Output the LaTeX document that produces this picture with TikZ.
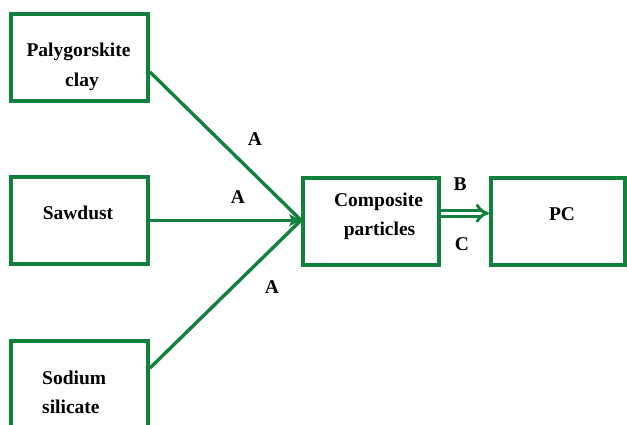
\documentclass[tikz,border=0pt]{standalone}
\usepackage{fontspec}
\setmainfont{Liberation Serif}
\usetikzlibrary{arrows.meta}
\definecolor{flowgreen}{RGB}{20,128,62}
\tikzset{
  box/.style={draw=flowgreen, line width=4pt, minimum width=137pt, minimum height=87pt, inner sep=0pt},
  lbl/.style={font=\fontsize{19.5}{23}\selectfont\bfseries, inner sep=0pt, anchor=base},
  link/.style={draw=flowgreen, line width=3.4pt},
}
\begin{document}
\begin{tikzpicture}[x=1pt, y=-1pt]
\useasboundingbox (0,0) rectangle (627,425);
% boxes
\node[box] (pal) at (79.5,57.75) {};
\node[box] (saw) at (79.5,220.75) {};
\node[box] (sod) at (79.5,384.5) {};
\node[box, minimum width=136pt] (comp) at (371,221.25) {};
\node[box, minimum width=134pt] (pc) at (558,221.25) {};
% box texts
\node[lbl] (t1) at (78.5,57) {Palygorskite};
\node[lbl] (t2) at (82,87) {clay};
\node[lbl] (t3) at (78,219) {Sawdust};
\node[lbl, anchor=base west] (t4) at (42,384) {Sodium};
\node[lbl, anchor=base west] (t5) at (42,413) {silicate};
\node[lbl] (t6) at (378.5,207) {Composite};
\node[lbl] (t7) at (379.5,235) {particles};
\node[lbl] (t8) at (562,220) {PC};
% connectors
\coordinate (p1) at ([yshift=-14.25pt]pal.east);
\coordinate (p3) at ([yshift=16.5pt]sod.east);
\coordinate (tip) at ([yshift=1pt]comp.west);
\draw[link] (p1) -- (tip);
\draw[link] (p3) -- (tip);
\draw[link, -{Stealth[length=12pt,width=12pt,inset=3pt]}] (saw.east |- tip) -- (tip);
\draw[draw=flowgreen, double=white, double distance=3pt, line width=3pt, -{Implies[length=7pt,width=14pt]}] ([yshift=8pt]comp.east) -- ([yshift=8pt]pc.west);
% labels
\node[lbl] (a1) at (255,146) {A};
\node[lbl] (a2) at (238,204) {A};
\node[lbl] (a3) at (272,293) {A};
\node[lbl] (b) at (460,191) {B};
\node[lbl] (c) at (462,250) {C};
\end{tikzpicture}
\end{document}
